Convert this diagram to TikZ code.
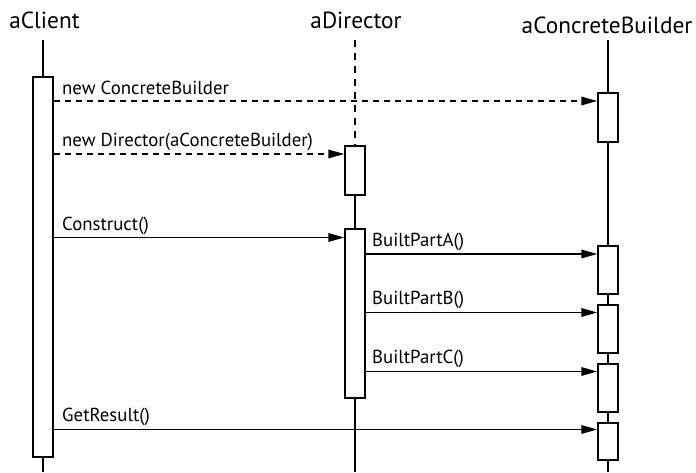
\documentclass[tikz,border=0pt]{standalone}
\usepackage{fontspec}
\setmainfont{PT Sans}
\usetikzlibrary{arrows.meta}
\begin{document}
\begin{tikzpicture}[x=1pt,y=-1pt,
  title/.style={font=\fontsize{23.3}{26}\selectfont, anchor=base, inner sep=0pt},
  lbl/.style={font=\fontsize{18.8}{21}\selectfont, anchor=base west, inner sep=0pt},
  life/.style={line width=2pt},
  dlife/.style={line width=2pt, dash pattern=on 7pt off 6pt},
  act/.style={draw, line width=2pt, fill=white, minimum width=19.5pt, inner sep=0pt, anchor=north},
  msg/.style={line width=1.8pt, -{Triangle[length=16pt,width=8.5pt]}},
  dmsg/.style={msg, dash pattern=on 6pt off 5pt}]
\useasboundingbox (0,0) rectangle (696,472);
% heads
\node[title] (hc) at (44.5,28) {aClient};
\node[title] (hd) at (356,28) {aDirector};
\node[title] (hb) at (607,33) {aConcreteBuilder};
\coordinate (tc) at (43,40);
\coordinate (td) at (355,40);
\coordinate (tb) at (608,40);
\coordinate (ec) at (43,472);
\coordinate (ed) at (355,472);
\coordinate (eb) at (608,472);
% activation boxes
\node[act, minimum height=380pt] (cl) at (43,76) {};
\node[act, minimum height=49pt] (d1) at (355,145) {};
\node[act, minimum height=169pt] (d2) at (355,228) {};
\node[act, minimum height=49pt] (b1) at (608,91.5) {};
\node[act, minimum height=48pt] (bA) at (608,245) {};
\node[act, minimum height=48.5pt] (bB) at (608,303.5) {};
\node[act, minimum height=48.5pt] (bC) at (608,362.5) {};
\node[act, minimum height=37.5pt] (bD) at (608,421.5) {};
% lifelines
\draw[life] (tc) -- (cl.north);
\draw[life] (cl.south) -- (ec);
\draw[dlife] (td) -- (d1.north);
\draw[life] (d1.south) -- (d2.north);
\draw[life] (d2.south) -- (ed);
\draw[life] (tb) -- (b1.north);
\draw[life] (b1.south) -- (bA.north);
\draw[life] (bA.south) -- (bB.north);
\draw[life] (bB.south) -- (bC.north);
\draw[life] (bC.south) -- (bD.north);
\draw[life] (bD.south) -- (eb);
% message rows
\coordinate (m1) at (0,101);
\coordinate (m2) at (0,154);
\coordinate (m3) at (0,237.5);
\coordinate (m4) at (0,254);
\coordinate (m5) at (0,312.5);
\coordinate (m6) at (0,371.5);
\coordinate (m7) at (0,429.5);
\draw[dmsg] (cl.east |- m1) -- (b1.west |- m1);
\draw[dmsg] (cl.east |- m2) -- (d1.west |- m2);
\draw[msg] (cl.east |- m3) -- (d2.west |- m3);
\draw[msg] (d2.east |- m4) -- (bA.west |- m4);
\draw[msg] (d2.east |- m5) -- (bB.west |- m5);
\draw[msg] (d2.east |- m6) -- (bC.west |- m6);
\draw[msg] (cl.east |- m7) -- (bD.west |- m7);
% labels
\node[lbl] (l1) at (62,94) {new ConcreteBuilder};
\node[lbl] (l2) at (62,146.5) {new Director(aConcreteBuilder)};
\node[lbl] (l3) at (62,230) {Construct()};
\node[lbl] (l4) at (372,246) {BuiltPartA()};
\node[lbl] (l5) at (372,304.5) {BuiltPartB()};
\node[lbl] (l6) at (372,363.5) {BuiltPartC()};
\node[lbl] (l7) at (62,421) {GetResult()};
\end{tikzpicture}
\end{document}
